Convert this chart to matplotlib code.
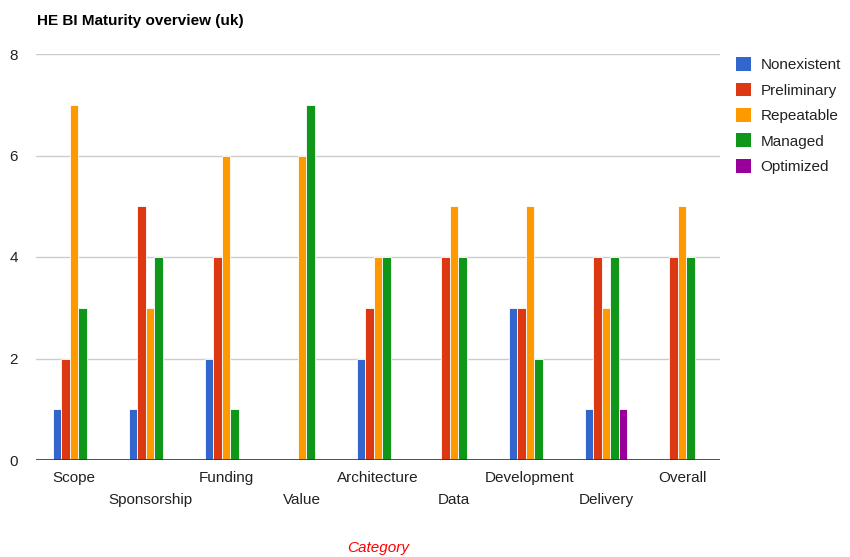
import matplotlib
matplotlib.use("Agg")
import matplotlib.pyplot as plt
from matplotlib.patches import Patch
import numpy as np

plt.rcParams['font.family'] = ['Liberation Sans', 'DejaVu Sans']

categories = ["Scope", "Sponsorship", "Funding", "Value", "Architecture",
              "Data", "Development", "Delivery", "Overall"]
series_names = ["Nonexistent", "Preliminary", "Repeatable", "Managed", "Optimized"]
nonexistent = [1, 1, 2, 0, 2, 0, 3, 1, 0]
preliminary = [2, 5, 4, 0, 3, 4, 3, 4, 4]
repeatable = [7, 3, 6, 6, 4, 5, 5, 3, 5]
managed = [3, 4, 1, 7, 4, 4, 2, 4, 4]
optimized = [0, 0, 0, 0, 0, 0, 0, 1, 0]
y_ticks = [0, 2, 4, 6, 8]

series = [nonexistent, preliminary, repeatable, managed, optimized]
colors = ["#3366cc", "#dc3912", "#ff9900", "#109618", "#990099"]

fig = plt.figure(figsize=(8.5, 5.57), dpi=100)
ax = fig.add_axes([36 / 850, 97 / 557, 684 / 850, 406 / 557])

x = np.arange(len(categories))
bw = 0.113
for i, (vals, c) in enumerate(zip(series, colors)):
    ax.bar(x + (i - 2) * bw, vals, width=bw, color=c, edgecolor="white",
           linewidth=0.6, zorder=3)

ax.set_xlim(-0.5, len(categories) - 0.5)
ax.set_ylim(0, 8)
ax.set_yticks(y_ticks)
ax.set_yticklabels([str(t) for t in y_ticks], fontsize=11, color="#222222")
for t in y_ticks[1:]:
    ax.axhline(t, color="#cccccc", linewidth=1, zorder=1)
ax.axhline(0, color="#333333", linewidth=1.2, zorder=4)

ax.set_xticks(x)
ax.set_xticklabels([c if i % 2 == 0 else "\n" + c for i, c in enumerate(categories)],
                   fontsize=11, color="#222222", linespacing=1.75)
ax.tick_params(axis="both", length=0)
ax.tick_params(axis="x", pad=8)
ax.tick_params(axis="y", pad=13)
for s in ax.spines.values():
    s.set_visible(False)

fig.text(37 / 850, 1 - 21 / 557, "HE BI Maturity overview (uk)", fontsize=11,
         fontweight="bold", va="center", ha="left", color="#000000")
fig.text(378 / 850, 1 - 548 / 557, "Category", fontsize=11, style="italic",
         color="#ff0000", ha="center", va="center")

handles = [Patch(facecolor=c, edgecolor="none") for c in colors]
fig.legend(handles, series_names, loc="upper left",
           bbox_to_anchor=(730 / 850, 1 - 51 / 557), frameon=False,
           fontsize=11, handlelength=1.0, handleheight=1.0, handletextpad=0.6,
           labelspacing=0.68, borderaxespad=0, labelcolor="#222222")

fig.savefig("out.png", dpi=100)
